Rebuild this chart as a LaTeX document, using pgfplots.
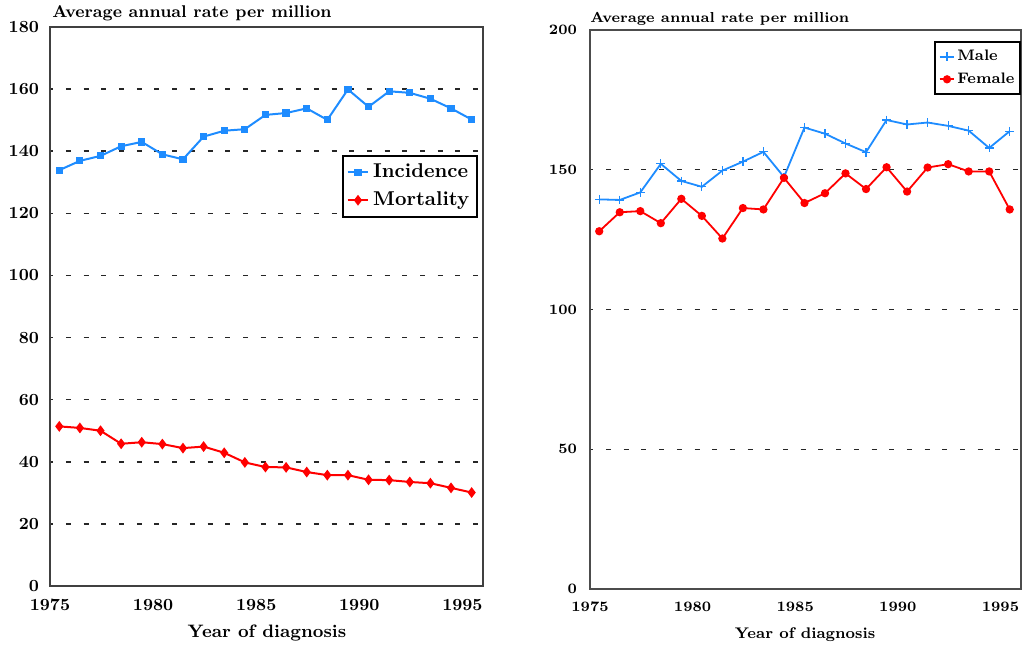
\documentclass[border=0pt]{standalone}
\usepackage{pgfplots}
\pgfplotsset{compat=1.18}
\definecolor{incblue}{RGB}{30,140,255}
\definecolor{mred}{RGB}{255,0,0}
\pgfplotstableread{
x inc mort
1975.45 133.9 51.4
1976.45 136.9 50.9
1977.45 138.5 50.0
1978.45 141.6 45.8
1979.45 143.0 46.3
1980.45 139.0 45.7
1981.45 137.4 44.4
1982.45 144.7 44.9
1983.45 146.6 42.9
1984.45 147.1 39.8
1985.45 151.7 38.3
1986.45 152.3 38.2
1987.45 153.8 36.7
1988.45 150.1 35.7
1989.45 159.9 35.7
1990.45 154.3 34.2
1991.45 159.3 34.1
1992.45 158.8 33.5
1993.45 156.9 33.1
1994.45 153.8 31.6
1995.45 150.2 30.1
}\lefttable
\pgfplotstableread{
x male female
1975.45 139.4 128.0
1976.45 139.2 134.8
1977.45 141.9 135.2
1978.45 152.1 130.9
1979.45 146.0 139.6
1980.45 143.9 133.5
1981.45 149.7 125.4
1982.45 152.9 136.3
1983.45 156.4 135.8
1984.45 147.4 147.1
1985.45 165.1 138.1
1986.45 162.9 141.6
1987.45 159.4 148.7
1988.45 156.3 143.1
1989.45 167.8 150.9
1990.45 166.2 142.2
1991.45 166.9 150.8
1992.45 165.7 152.0
1993.45 164.0 149.4
1994.45 157.8 149.4
1995.45 163.8 135.8
}\righttable
\pgfplotsset{
  myaxis/.style={
    scale only axis,
    axis line style={draw=black!75, line width=0.8pt},
    major tick length=0pt,
    tick style={draw=none},
    ymajorgrids,
    xtick={1975,1980,...,1995},
    xmin=1975, xmax=1996, ymin=0,
    /pgf/number format/1000 sep={},
    /pgf/number format/assume math mode=true,
    legend cell align=left,
  }
}
\begin{document}
\begin{tikzpicture}
\path (0,0) rectangle (514.5pt,-327.5pt);
% ---------- left panel ----------
\begin{axis}[myaxis, at={(25pt,-13.5pt)}, anchor=north west,
  width=216.5pt, height=279.5pt,
  ymax=180, ytick={0,20,...,180},
  grid style={dash pattern=on 2.5pt off 6.35pt, dash phase=0.85pt, black!85, line width=0.75pt},
  tick label style={font=\fontsize{8.5}{10}\selectfont\bfseries},
  xticklabel style={yshift=-3pt},
  yticklabel style={xshift=-2pt},
  legend image code/.code={\draw[mark repeat=2,mark phase=2] plot coordinates {(0cm,0cm) (0.18cm,0cm) (0.36cm,0cm)};},
  legend style={at={(0.674,0.771)}, anchor=north west, draw=black, line width=0.9pt,
    font=\fontsize{10}{12}\selectfont\bfseries, row sep=1.5pt, inner sep=2pt},
]
\addplot[incblue, line width=1pt, mark=square*, mark size=1.3pt] table[x=x,y=inc]{\lefttable};
\addlegendentry{Incidence}
\addplot[mred, line width=1pt, mark=diamond*, mark size=1.9pt] table[x=x,y=mort]{\lefttable};
\addlegendentry{Mortality}
\end{axis}
\node[anchor=base west, font=\fontsize{8.5}{10}\selectfont\bfseries, inner sep=0pt] at (26pt,-8.5pt) {Average annual rate per million};
\node[anchor=base, font=\fontsize{9}{10}\selectfont\bfseries, inner sep=0pt] at (133.5pt,-318.5pt) {Year of diagnosis};
% ---------- right panel ----------
\begin{axis}[myaxis, at={(295pt,-15pt)}, anchor=north west,
  width=215.5pt, height=279.5pt,
  ymax=200, ytick={0,50,...,200},
  axis line style={draw=black!70, line width=0.6pt},
  grid style={dash pattern=on 2.5pt off 6.35pt, dash phase=0.85pt, black!85, line width=0.6pt},
  tick label style={font=\fontsize{7.2}{9}\selectfont\bfseries},
  xticklabel style={yshift=-3pt},
  yticklabel style={xshift=-3pt},
  legend image code/.code={\draw[mark repeat=2,mark phase=2] plot coordinates {(0cm,0cm) (0.13cm,0cm) (0.26cm,0cm)};},
  legend style={at={(0.798,0.98)}, anchor=north west, draw=black, line width=0.8pt,
    font=\fontsize{7.6}{9}\selectfont\bfseries, row sep=0.5pt, inner sep=2pt,
    nodes={inner xsep=1pt}},
]
\addplot[incblue, line width=0.9pt, mark=+, mark size=2.2pt, mark options={line width=0.6pt}] table[x=x,y=male]{\righttable};
\addlegendentry{Male}
\addplot[mred, line width=0.9pt, mark=*, mark size=1.6pt] table[x=x,y=female]{\righttable};
\addlegendentry{Female}
\end{axis}
\node[anchor=base west, font=\fontsize{7.2}{9}\selectfont\bfseries, inner sep=0pt] at (295pt,-11pt) {Average annual rate per million};
\node[anchor=base, font=\fontsize{7.7}{9}\selectfont\bfseries, inner sep=0pt] at (402.5pt,-319pt) {Year of diagnosis};
\pgfresetboundingbox
\path[use as bounding box] (0,0) rectangle (514.5pt,-327.5pt);
\end{tikzpicture}
\end{document}
